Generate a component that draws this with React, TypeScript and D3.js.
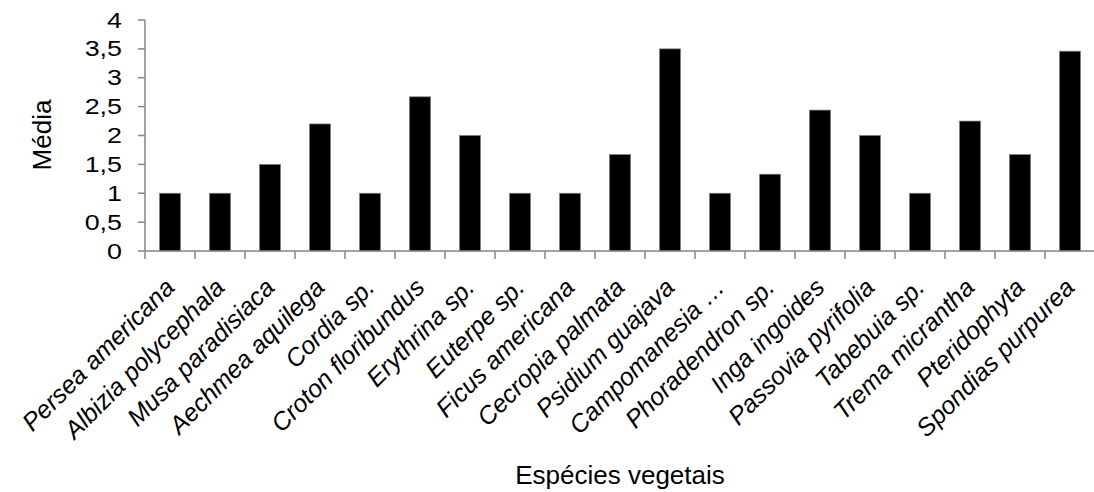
import React from "react";
import * as d3 from "d3";

const categories = [
  "Persea americana",
  "Albizia polycephala",
  "Musa paradisiaca",
  "Aechmea aquilega",
  "Cordia sp.",
  "Croton floribundus",
  "Erythrina sp.",
  "Euterpe sp.",
  "Ficus americana",
  "Cecropia palmata",
  "Psidium guajava",
  "Campomanesia …",
  "Phoradendron sp.",
  "Inga ingoides",
  "Passovia pyrifolia",
  "Tabebuia sp.",
  "Trema micrantha",
  "Pteridophyta",
  "Spondias purpurea",
];
const values = [1, 1, 1.5, 2.2, 1, 2.67, 2, 1, 1, 1.67, 3.5, 1, 1.33, 2.44, 2, 1, 2.25, 1.67, 3.46];
const yTicks = [0, 0.5, 1, 1.5, 2, 2.5, 3, 3.5, 4];
const yTitle = "Média";
const xTitle = "Espécies vegetais";

const W = 1094;
const H = 492;
const left = 145;
const right = 1095;
const top = 20;
const bottom = 251;
const font = "'Liberation Sans', Arial, sans-serif";
const axisColor = "#868686";

export default function App() {
  const x = d3.scaleBand<string>().domain(categories).range([left, right]).paddingInner(0.58).paddingOuter(0.29);
  const y = d3.scaleLinear().domain([0, 4]).range([bottom, top]);
  const step = x.step();
  const fmt = (v: number) => String(v).replace(".", ",");
  return (
    <svg width={W} height={H} style={{ position: "absolute", left: 0, top: 0, background: "#fff" }} fontFamily={font}>
      <rect x={0} y={0} width={W} height={H} fill="#fff" />
      {categories.map((c, i) => (
        <rect
          key={c}
          x={x(c)}
          y={y(values[i])}
          width={x.bandwidth()}
          height={y(0) - y(values[i])}
          fill="#000"
          stroke="#7f7f7f"
          strokeWidth={0.75}
        />
      ))}
      <line x1={left} x2={left} y1={top} y2={bottom} stroke={axisColor} strokeWidth={1.5} />
      <line x1={left} x2={right} y1={bottom} y2={bottom} stroke={axisColor} strokeWidth={1.5} />
      {yTicks.map((t) => (
        <g key={t}>
          <line x1={left - 7} x2={left} y1={y(t)} y2={y(t)} stroke={axisColor} strokeWidth={1.5} />
          <text
            transform={`translate(122,${y(t)}) scale(1.22,1)`}
            textAnchor="end"
            dominantBaseline="central"
            fontSize={22}
            fill="#000"
          >
            {fmt(t)}
          </text>
        </g>
      ))}
      {categories.map((c) => (
        <line
          key={"t" + c}
          x1={(x(c) as number) - (step - x.bandwidth()) / 2}
          x2={(x(c) as number) - (step - x.bandwidth()) / 2}
          y1={bottom}
          y2={bottom + 8}
          stroke={axisColor}
          strokeWidth={1.5}
        />
      ))}
      {categories.map((c) => {
        const cx = (x(c) as number) + x.bandwidth() / 2;
        return (
          <text
            key={"l" + c}
            transform={`translate(${cx + 6},${bottom + 38}) rotate(-45)`}
            textAnchor="end"
            fontSize={25}
            fontStyle="italic"
            fill="#000"
          >
            {c}
          </text>
        );
      })}
      <text transform={`translate(51,135) rotate(-90)`} textAnchor="middle" fontSize={26} fill="#000">
        {yTitle}
      </text>
      <text x={620} y={484} textAnchor="middle" fontSize={26} fill="#000">
        {xTitle}
      </text>
    </svg>
  );
}
